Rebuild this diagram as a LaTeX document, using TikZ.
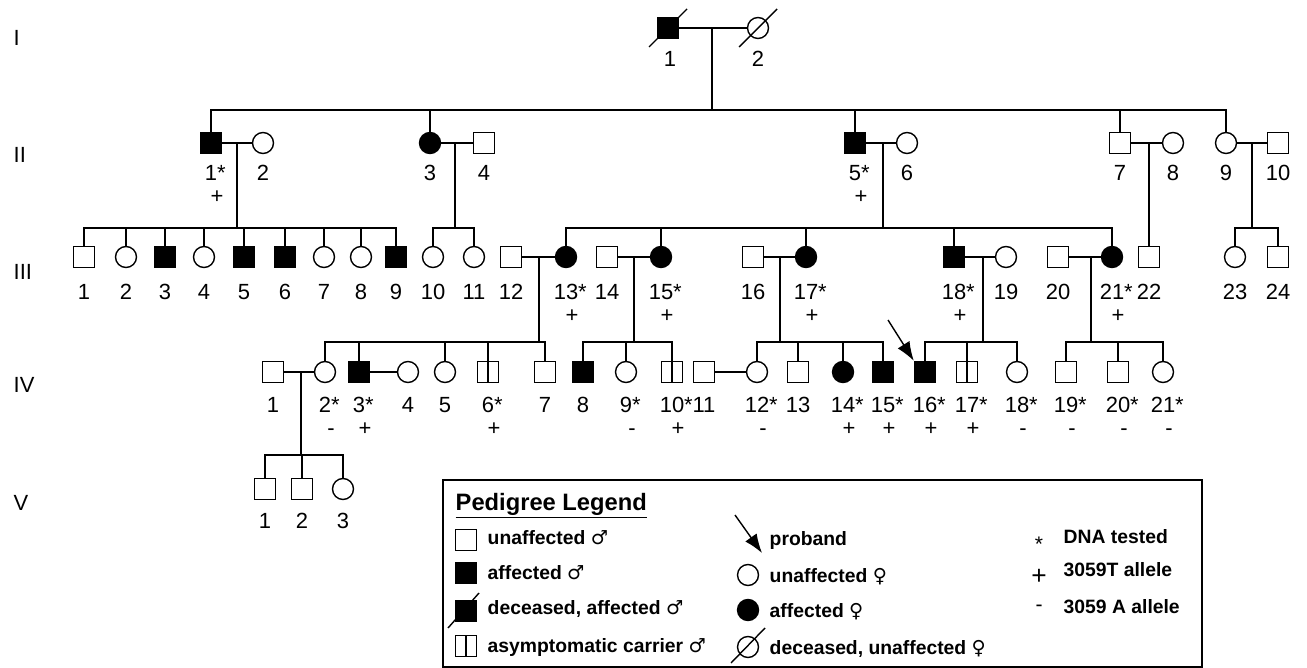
\documentclass[tikz,border=0pt]{standalone}
\usepackage{fontspec}
\setmainfont{Liberation Sans}
\newfontfamily\symfont{DejaVu Sans}
\usetikzlibrary{arrows.meta}
\newcommand{\tested}{\rlap{*}}

\begin{document}
\begin{tikzpicture}[x=0.02cm, y=-0.02cm, line width=0.8pt,
        male/.style={draw, rectangle, minimum size=0.42cm, inner sep=0pt},
        female/.style={draw, circle, minimum size=0.42cm, inner sep=0pt},
        affmale/.style={male, fill=black},
        afffemale/.style={female, fill=black},
        carrier/.style={male, path picture={\draw (path picture bounding box.north) -- (path picture bounding box.south);}},
        num/.style={anchor=base, inner sep=0pt, font=\fontsize{12.5}{14}\selectfont},
        geno/.style={num},
        gen/.style={anchor=base west, inner sep=0pt, font=\fontsize{12.5}{14}\selectfont},
        keytext/.style={anchor=base west, inner sep=0pt, font=\fontsize{11}{13}\selectfont\bfseries},
        keymark/.style={inner sep=0pt, font=\fontsize{12}{14}\selectfont},
        proband/.style={-{Latex[length=0.38cm, width=0.28cm]}}]

        \useasboundingbox (0,0) rectangle (1307,668);

        % Generation labels
        \foreach \g/\y in {I/46, II/163, III/280, IV/393, V/510}
            \node[gen] (gen\g) at (13,\y) {\g};

        % Generation I
        \node[affmale] (I1) at (668,28) {};
        \node[female] (I2) at (758,28) {};
        \node[num] (lI1) at (670,67) {1};
        \node[num] (lI2) at (758,67) {2};
        \draw (I1) -- (I2);
        \draw ([shift={(-19,19)}]I1.center) -- ([shift={(19,-19)}]I1.center);
        \draw ([shift={(-19,19)}]I2.center) -- ([shift={(19,-19)}]I2.center);

        % Generation II
        \foreach \n/\x/\s/\t in {1/211/affmale/1\tested, 2/263/female/2, 3/430/afffemale/3,
                4/484/male/4, 5/855/affmale/5\tested, 6/907/female/6, 7/1120/male/7,
                8/1173/female/8, 9/1226/female/9, 10/1278/male/10} {
            \node[\s] (II\n) at (\x,143) {};
            \node[num] (lII\n) at (\x,181) {\t};
        }
        \foreach \n/\x/\g in {1/211/+, 5/855/+}
            \node[geno] (gII\n) at (\x+6,204) {\g};

        % Sibship of generation II
        \coordinate (mI) at (712,28);
        \coordinate (sI) at (712,110);
        \draw (mI) -- (sI);
        \draw (II1) |- (sI) -| (II9);
        \foreach \c in {II3, II5, II7}
            \draw (\c) -- (\c |- sI);

        % Couples of generation II
        \draw (II1) -- (II2);
        \draw (II3) -- (II4);
        \draw (II5) -- (II6);
        \draw (II7) -- (II8);
        \draw (II9) -- (II10);

        % Generation III
        \foreach \n/\x/\s/\t in {1/84/male/1, 2/126/female/2, 3/165/affmale/3, 4/204/female/4,
                5/244/affmale/5, 6/285/affmale/6, 7/324/female/7, 8/361/female/8,
                9/396/affmale/9, 10/433/female/10, 11/474/female/11, 12/511/male/12,
                13/566/afffemale/13\tested, 14/607/male/14, 15/661/afffemale/15\tested,
                16/753/male/16, 17/806/afffemale/17\tested, 18/954/affmale/18\tested,
                19/1006/female/19, 20/1058/male/20, 21/1112/afffemale/21\tested,
                22/1149/male/22, 23/1235/female/23, 24/1278/male/24} {
            \node[\s] (III\n) at (\x,257) {};
            \node[num] (lIII\n) at (\x,300) {\t};
        }
        \foreach \n/\x/\g in {13/566/+, 15/661/+, 17/806/+, 18/954/+, 21/1112/+}
            \node[geno] (gIII\n) at (\x+6,323) {\g};

        % Sibships of generation III
        \coordinate (mII1) at (237,143);
        \coordinate (sII1) at (237,228);
        \draw (mII1) -- (sII1);
        \draw (III1) |- (sII1) -| (III9);
        \foreach \c in {III2, III3, III4, III5, III6, III7, III8}
            \draw (\c) -- (\c |- sII1);

        \coordinate (mII3) at (455,143);
        \coordinate (sII3) at (455,228);
        \draw (mII3) -- (sII3);
        \draw (III10) |- (sII3) -| (III11);

        \coordinate (mII5) at (883,143);
        \coordinate (sII5) at (883,228);
        \draw (mII5) -- (sII5);
        \draw (III13) |- (sII5) -| (III21);
        \foreach \c in {III15, III17, III18}
            \draw (\c) -- (\c |- sII5);

        \coordinate (mII7) at (1149,143);
        \draw (mII7) -- (III22);

        \coordinate (mII9) at (1252,143);
        \coordinate (sII9) at (1252,228);
        \draw (mII9) -- (sII9);
        \draw (III23) |- (sII9) -| (III24);

        % Couples of generation III
        \draw (III12) -- (III13);
        \draw (III14) -- (III15);
        \draw (III16) -- (III17);
        \draw (III18) -- (III19);
        \draw (III20) -- (III21);

        % Generation IV
        \foreach \n/\x/\s/\t in {1/273/male/1, 2/325/female/2\tested, 3/359/affmale/3\tested,
                4/408/female/4, 5/445/female/5, 6/488/carrier/6\tested, 7/545/male/7,
                8/583/affmale/8, 9/626/female/9\tested, 10/672/carrier/10\tested,
                11/704/male/11, 12/757/female/12\tested, 13/798/male/13,
                14/843/afffemale/14\tested, 15/883/affmale/15\tested, 16/925/affmale/16\tested,
                17/967/carrier/17\tested, 18/1017/female/18\tested, 19/1066/male/19\tested,
                20/1118/male/20\tested, 21/1163/female/21\tested} {
            \node[\s] (IV\n) at (\x,372) {};
            \node[num] (lIV\n) at (\x,413) {\t};
        }
        \foreach \n/\x/\g in {2/325/-, 3/359/+, 6/488/+, 9/626/-, 10/672/+, 12/757/-,
                14/843/+, 15/883/+, 16/925/+, 17/967/+, 18/1017/-, 19/1066/-,
                20/1118/-, 21/1163/-}
            \node[geno] (gIV\n) at (\x+6,436) {\g};

        % Sibships of generation IV
        \coordinate (mIII12) at (539,257);
        \coordinate (sIII12) at (539,342);
        \draw (mIII12) -- (sIII12);
        \draw (IV2) |- (sIII12) -| (IV7);
        \foreach \c in {IV3, IV5, IV6}
            \draw (\c) -- (\c |- sIII12);

        \coordinate (mIII14) at (634,257);
        \coordinate (sIII14) at (634,342);
        \draw (mIII14) -- (sIII14);
        \draw (IV8) |- (sIII14) -| (IV10);
        \draw (IV9) -- (IV9 |- sIII14);

        \coordinate (mIII16) at (780,257);
        \coordinate (sIII16) at (780,342);
        \draw (mIII16) -- (sIII16);
        \draw (IV12) |- (sIII16) -| (IV15);
        \foreach \c in {IV13, IV14}
            \draw (\c) -- (\c |- sIII16);

        \coordinate (mIII18) at (983,257);
        \coordinate (sIII18) at (983,342);
        \draw (mIII18) -- (sIII18);
        \draw (IV16) |- (sIII18) -| (IV18);
        \draw (IV17) -- (IV17 |- sIII18);

        \coordinate (mIII20) at (1091,257);
        \coordinate (sIII20) at (1091,342);
        \draw (mIII20) -- (sIII20);
        \draw (IV19) |- (sIII20) -| (IV21);
        \draw (IV20) -- (IV20 |- sIII20);

        % Couples of generation IV
        \draw (IV1) -- (IV2);
        \draw (IV3) -- (IV4);
        \draw (IV11) -- (IV12);

        % Proband
        \coordinate (pb) at (888,320);
        \draw[proband] (pb) -- (IV16.north west);

        % Generation V
        \foreach \n/\x/\s in {1/265/male, 2/302/male, 3/343/female} {
            \node[\s] (V\n) at (\x,489) {};
            \node[num] (lV\n) at (\x,528) {\n};
        }
        \coordinate (mIV1) at (301,372);
        \coordinate (sIV1) at (301,455);
        \draw (mIV1) -- (sIV1);
        \draw (V1) |- (sIV1) -| (V3);
        \draw (V2) -- (V2 |- sIV1);

        % Legend
        \draw (443,480) rectangle (1202,667);
        \node[anchor=base west, inner sep=0pt, font=\fontsize{13.5}{15}\selectfont\bfseries] (keytitle) at (455,510) {\underline{Pedigree Legend}};

        \node[male] (k1) at (466,540) {};
        \node[keytext] (k1t) at (487,544) {unaffected {\symfont\mdseries ♂}};
        \node[affmale] (k2) at (466,573) {};
        \node[keytext] (k2t) at (487,579) {affected {\symfont\mdseries ♂}};
        \node[affmale] (k3) at (466,611) {};
        \draw ([shift={(-18,17)}]k3.center) -- ([shift={(13,-18)}]k3.center);
        \node[keytext] (k3t) at (487,614) {deceased, affected {\symfont\mdseries ♂}};
        \node[carrier] (k4) at (466,646) {};
        \node[keytext] (k4t) at (487,652) {asymptomatic carrier {\symfont\mdseries ♂}};

        \coordinate (ka) at (735,515);
        \coordinate (kb) at (762,553);
        \draw[proband] (ka) -- (kb);
        \node[keytext] (k5t) at (769,545) {proband};
        \node[female] (k6) at (748,575) {};
        \node[keytext] (k6t) at (769,582) {unaffected {\symfont\mdseries ♀}};
        \node[afffemale] (k7) at (748,610) {};
        \node[keytext] (k7t) at (769,617) {affected {\symfont\mdseries ♀}};
        \node[female] (k8) at (748,647) {};
        \draw ([shift={(-17,16)}]k8.center) -- ([shift={(17,-19)}]k8.center);
        \node[keytext] (k8t) at (769,654) {deceased, unaffected {\symfont\mdseries ♀}};

        \node[keymark] (k9) at (1039,544) {*};
        \node[keytext] (k9t) at (1063,543) {DNA tested};
        \node[keymark, font=\fontsize{15}{16}\selectfont] (k10) at (1039,577) {+};
        \node[keytext] (k10t) at (1063,576) {3059T allele};
        \node[keymark] (k11) at (1039,608) {-};
        \node[keytext] (k11t) at (1063,613) {3059 A allele};

    \end{tikzpicture}
\end{document}
